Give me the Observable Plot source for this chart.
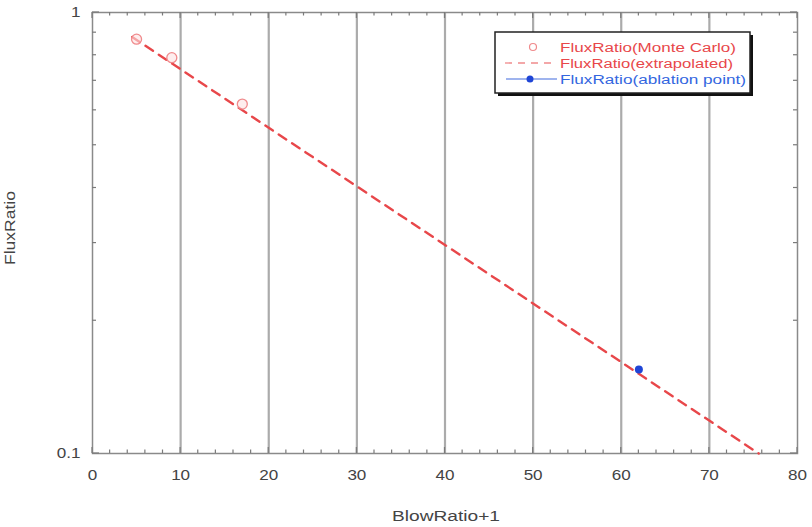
<!DOCTYPE html>
<html><head><meta charset="utf-8">
<script src="https://cdn.jsdelivr.net/npm/d3@7"></script>
<script src="https://cdn.jsdelivr.net/npm/@observablehq/plot@0.6"></script>
<style>
body{margin:0;background:#fff;font-family:"Liberation Sans",Arial,sans-serif;}
#wrap{position:relative;width:812px;height:527px;}
</style></head>
<body><div id="wrap"><div id="chart"></div></div>
<script>
const mcX = [5, 9, 17];
const mcY = [0.87, 0.79, 0.62];
const extX = [4.5, 75.6];
const extY = [0.88, 0.1];
const ablX = [62];
const ablY = [0.155];
const xMajor = [0, 10, 20, 30, 40, 50, 60, 70, 80];
const xMinor = d3.range(0, 81, 2);
const gridX = [10, 20, 30, 40, 50, 60, 70];
const yMajor = [0.1, 1];
const yMinor = [0.2, 0.3, 0.4, 0.5, 0.6, 0.7, 0.8, 0.9];
const legendLabels = ["FluxRatio(Monte Carlo)", "FluxRatio(extrapolated)", "FluxRatio(ablation point)"];
const legendColors = ["#e8474a", "#e8474a", "#3366e0"];
const xTitle = "BlowRatio+1";
const yTitle = "FluxRatio";

const mc = mcX.map((x, i) => ({x, y: mcY[i]}));
const ext = extX.map((x, i) => ({x, y: extY[i]}));
const abl = ablX.map((x, i) => ({x, y: ablY[i]}));
const FONT = "Liberation Sans, Arial, sans-serif";

(function draw() {
const chart = Plot.plot({
  width: 812, height: 527,
  marginLeft: 92, marginRight: 15, marginTop: 12, marginBottom: 74,
  style: {fontFamily: FONT, fontSize: "14px", color: "#444"},
  x: {domain: [0, 80]},
  y: {type: "log", domain: [0.1, 1]},
  marks: [
    Plot.ruleX(gridX, {stroke: "#ababab", strokeWidth: 2.2}),
    Plot.axisX({anchor: "bottom", ticks: xMajor, tickSize: 0, tickPadding: 17, tickFormat: d => d, fill: "#444", label: null}),
    Plot.axisY({anchor: "left", ticks: yMajor, tickSize: 0, tickPadding: 12, tickFormat: d => String(d), fill: "#444", label: null}),
    Plot.frame({stroke: "#8a8a8a", strokeWidth: 1.5}),
    Plot.line(ext, {x: "x", y: "y", stroke: "#e8474a", strokeWidth: 2.4, strokeDasharray: "9,7"}),
    Plot.dot(mc, {x: "x", y: "y", r: 5, stroke: "#f08a8c", fill: "#fde3e3", fillOpacity: 0.6, strokeWidth: 1.3}),
    Plot.dot(abl, {x: "x", y: "y", r: 4, fill: "#1f45d6"})
  ]
});
document.getElementById("chart").appendChild(chart);

const svg = d3.select(chart);
const sx = chart.scale("x"), sy = chart.scale("y");
const X = v => sx.apply(v), Y = v => sy.apply(v);
const pLeft = X(0), pRight = X(80), pTop = Y(1), pBottom = Y(0.1);

svg.selectAll("text").each(function() {
  const w = this.getComputedTextLength();
  d3.select(this).attr("textLength", w * 1.22).attr("lengthAdjust", "spacingAndGlyphs");
});

const tg = svg.append("g").attr("stroke", "#7a7a7a").attr("stroke-width", 1.2);
xMinor.forEach(v => {
  const L = xMajor.includes(v) ? 6 : 3.5;
  tg.append("line").attr("x1", X(v)).attr("x2", X(v)).attr("y1", pBottom).attr("y2", pBottom - L);
  tg.append("line").attr("x1", X(v)).attr("x2", X(v)).attr("y1", pTop).attr("y2", pTop + L);
});
yMinor.concat(yMajor).forEach(v => {
  const L = yMajor.includes(v) ? 7 : 4;
  tg.append("line").attr("y1", Y(v)).attr("y2", Y(v)).attr("x1", pLeft).attr("x2", pLeft + L);
  tg.append("line").attr("y1", Y(v)).attr("y2", Y(v)).attr("x1", pRight).attr("x2", pRight - L);
});

svg.append("text").attr("x", 446).attr("y", 521).attr("text-anchor", "middle")
  .attr("font-size", 14).attr("fill", "#444").attr("font-family", FONT)
  .attr("textLength", 108).attr("lengthAdjust", "spacingAndGlyphs").text(xTitle);
svg.append("text").attr("transform", "translate(15,228) rotate(-90)").attr("text-anchor", "middle")
  .attr("font-size", 14).attr("fill", "#444").attr("font-family", FONT)
  .attr("textLength", 74).attr("lengthAdjust", "spacingAndGlyphs").text(yTitle);

const lg = svg.append("g").attr("text-anchor", "start");
lg.append("rect").attr("x", 498).attr("y", 35).attr("width", 255).attr("height", 61).attr("fill", "#111");
lg.append("rect").attr("x", 495).attr("y", 32).attr("width", 255).attr("height", 61).attr("fill", "#fff").attr("stroke", "#222").attr("stroke-width", 1.5);
const rowsY = [47, 63, 79];
const textLens = [176, 173, 186];
lg.append("circle").attr("cx", 533).attr("cy", rowsY[0]).attr("r", 3.5).attr("fill", "none").attr("stroke", "#f08a8c").attr("stroke-width", 1.2);
lg.append("line").attr("x1", 505).attr("x2", 557).attr("y1", rowsY[1]).attr("y2", rowsY[1]).attr("stroke", "#f08a8c").attr("stroke-width", 1.3).attr("stroke-dasharray", "7,6");
lg.append("line").attr("x1", 506).attr("x2", 557).attr("y1", rowsY[2]).attr("y2", rowsY[2]).attr("stroke", "#7f9be8").attr("stroke-width", 1.3);
lg.append("circle").attr("cx", 530).attr("cy", rowsY[2]).attr("r", 3.5).attr("fill", "#1f45d6");
legendLabels.forEach((t, i) => {
  lg.append("text").attr("x", 560).attr("y", rowsY[i]).attr("dy", "0.36em").attr("text-anchor", "start")
    .attr("font-size", 12.5).attr("font-family", FONT).attr("fill", legendColors[i])
    .attr("textLength", textLens[i]).attr("lengthAdjust", "spacingAndGlyphs").text(t);
});
})();
</script></body></html>
